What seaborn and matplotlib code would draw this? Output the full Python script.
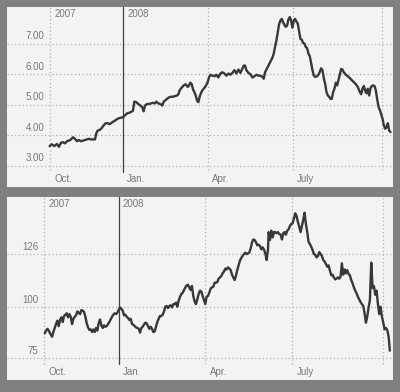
import matplotlib
matplotlib.use("Agg")
import matplotlib.pyplot as plt
import seaborn as sns
import pandas as pd

# ---- data (days relative to 2008-01-01) ----
top_days = [-78.6,-76.1,-73.6,-70.7,-68.6,-66.4,-64.3,-62.1,-60.0,-57.9,-55.7,-53.6,-51.4,-49.3,-47.1,-45.0,-42.9,-40.7,-38.6,-36.4,-34.3,-32.1,-30.0,-28.6,-27.1,-25.0,-22.9,-20.7,-18.6,-16.4,-14.3,-12.1,-10.0,-7.9,-5.7,-3.6,-1.4,0,2.1,4.3,6.4,8.6,10.7,12.1,14.3,16.4,18.6,20.7,22.1,23.6,25.7,27.9,30.0,32.1,34.3,35.7,37.9,40.0,42.1,43.6,45.0,47.1,49.3,51.4,53.6,55.7,57.9,59.3,60.7,62.9,65.0,67.1,69.3,70.7,72.1,73.6,75.0,76.4,77.9,79.3,80.7,82.1,83.6,85.0,86.4,88.6,90.7,92.1,93.6,95.7,97.9,100.0,102.1,104.3,106.4,108.6,110.7,112.9,115.0,117.1,119.3,121.4,123.6,125.7,127.9,129.3,130.7,132.1,134.3,136.4,138.6,140.7,142.9,145.0,147.1,149.3,150.7,152.1,153.6,155.7,157.9,160.0,161.4,162.9,164.3,165.7,167.1,168.6,170.0,171.4,172.9,174.3,175.7,177.1,178.6,180.0,181.4,182.9,184.3,185.7,187.1,188.6,190.0,191.4,192.9,194.3,195.7,197.1,198.6,200.0,201.4,202.9,204.3,205.7,207.9,210.0,212.1,213.6,215.0,216.4,217.9,219.3,220.7,222.1,223.6,225.0,226.4,227.9,229.3,230.7,232.1,233.6,235.0,236.4,238.6,240.7,242.9,245.0,247.1,249.3,251.4,253.6,255.0,256.4,257.9,259.3,260.7,262.1,263.6,265.0,266.4,267.9,269.3,270.7,272.1,273.6,275.7,277.9,279.3,280.7,282.1,283.6,285.0,286.4]
top_vals = [3.65,3.71,3.65,3.72,3.63,3.76,3.78,3.74,3.81,3.83,3.87,3.94,3.89,3.81,3.85,3.81,3.83,3.85,3.87,3.89,3.87,3.87,3.87,4.07,4.16,4.18,4.24,4.33,4.40,4.40,4.37,4.42,4.46,4.50,4.55,4.57,4.59,4.59,4.66,4.72,4.74,4.77,4.81,5.11,5.09,5.03,4.98,4.92,4.79,4.98,5.03,5.03,5.05,5.07,5.05,5.11,5.05,5.03,4.98,5.11,5.14,5.20,5.25,5.27,5.27,5.29,5.31,5.35,5.48,5.57,5.64,5.68,5.59,5.64,5.73,5.68,5.51,5.42,5.31,5.14,5.09,5.27,5.40,5.48,5.53,5.62,5.75,5.90,5.99,5.96,5.94,5.99,5.90,6.03,6.07,6.03,5.96,6.03,5.99,6.05,6.14,6.03,6.16,6.05,6.20,6.29,6.29,6.14,6.05,6.01,5.90,5.94,5.99,5.96,5.96,5.92,5.86,6.07,6.16,6.29,6.42,6.55,6.68,6.92,7.12,7.38,7.64,7.77,7.82,7.71,7.62,7.56,7.60,7.80,7.88,7.77,7.53,7.77,7.82,7.73,7.67,7.40,7.16,7.14,7.03,7.01,6.90,6.86,6.68,6.60,6.38,6.14,5.96,5.92,5.94,6.03,6.20,6.14,5.88,5.70,5.42,5.31,5.27,5.20,5.20,5.42,5.53,5.73,5.64,5.81,5.99,6.18,6.16,6.07,5.99,5.94,5.88,5.81,5.75,5.68,5.59,5.42,5.35,5.53,5.62,5.46,5.38,5.53,5.31,5.55,5.62,5.64,5.62,5.48,5.20,4.94,4.77,4.55,4.33,4.22,4.26,4.40,4.16,4.11]

bot_days = [-77.5,-76.1,-74.7,-73.3,-72.0,-69.9,-68.5,-67.1,-65.7,-64.3,-62.9,-61.5,-60.1,-58.7,-57.3,-55.9,-54.5,-53.1,-51.7,-50.3,-48.9,-47.5,-46.1,-44.7,-43.3,-41.9,-40.5,-39.1,-37.7,-36.3,-34.9,-33.5,-32.1,-30.7,-29.3,-27.9,-26.5,-25.1,-23.8,-22.4,-21.0,-19.6,-18.2,-16.8,-15.4,-14.0,-12.6,-11.2,-9.8,-8.4,-7.0,-5.6,-4.2,-2.8,-1.4,0.0,1.4,2.8,4.2,5.6,7.0,8.4,9.8,11.2,12.6,14.0,15.4,16.8,18.2,19.6,21.0,22.4,23.8,25.1,26.5,27.9,29.3,30.7,32.1,33.5,34.9,36.3,37.7,39.1,40.5,41.9,43.3,44.7,46.1,47.5,48.9,50.3,51.7,53.1,54.5,55.9,57.3,58.7,60.1,61.5,62.9,64.3,65.7,67.1,68.5,69.9,71.3,72.6,74.0,75.4,76.8,78.2,79.6,81.0,82.4,83.8,85.2,86.6,88.0,89.4,90.8,92.2,93.6,95.0,96.4,97.8,99.2,100.6,102.0,103.4,104.8,106.2,107.6,109.0,110.4,111.8,113.2,114.6,116.0,117.4,118.8,120.2,121.6,122.9,124.3,125.7,127.1,128.5,129.9,131.3,132.7,134.1,135.5,136.9,138.3,139.7,141.1,142.5,143.9,145.3,146.7,148.1,149.5,150.9,152.3,153.7,155.1,156.5,157.2,158.6,160.0,161.4,162.8,164.2,165.6,167.0,168.4,169.8,171.2,172.5,173.9,175.3,176.7,178.1,179.5,180.9,182.3,183.7,185.1,186.5,187.9,189.3,190.7,192.1,193.5,194.9,196.3,197.7,199.1,200.5,201.9,203.3,204.7,206.1,207.5,208.9,210.3,211.7,213.1,214.5,215.9,217.3,218.7,220.1,221.5,222.9,224.3,225.6,227.0,228.4,229.8,231.2,232.6,234.0,235.4,236.8,238.2,239.6,241.0,242.4,243.8,245.2,246.6,248.0,249.4,250.8,252.2,253.6,255.0,256.4,257.8,259.2,260.6,262.0,263.4,264.8,266.2,267.6,269.0,270.4,271.8,273.2,274.6,276.0,277.4,278.8,280.2,281.6,283.0,284.3]
bot_vals = [87.3,88.6,89.5,88.6,87.3,85.6,87.9,89.9,91.8,93.5,90.8,93.8,95.1,92.8,95.8,96.4,97.1,95.1,96.7,95.4,91.8,94.4,95.4,96.1,98.0,97.4,96.7,98.7,98.4,97.7,95.4,92.2,90.2,88.9,89.2,87.9,89.2,87.9,89.9,88.6,92.2,94.1,91.2,89.9,91.2,90.5,90.8,91.8,92.8,94.1,95.4,96.4,97.1,96.7,97.4,98.7,100.0,99.3,98.4,96.1,96.4,95.4,94.8,93.8,94.4,91.8,91.5,90.8,90.2,89.9,89.5,87.6,89.9,90.5,91.5,92.5,92.2,90.8,89.5,90.5,89.5,87.9,88.2,90.5,92.8,94.4,95.8,95.8,96.4,98.0,100.3,100.7,99.7,100.7,101.0,100.0,101.6,101.6,102.3,100.3,103.3,105.2,106.5,107.2,108.5,109.8,110.8,111.1,109.8,108.5,110.5,105.6,102.9,101.6,103.9,106.5,108.2,107.8,105.6,103.6,101.6,105.2,105.6,107.2,109.2,109.8,110.1,112.1,112.1,112.4,114.1,114.7,115.4,116.7,117.6,119.0,118.6,119.6,119.0,118.3,116.0,114.7,113.4,115.4,118.3,120.6,122.9,124.2,125.2,126.1,126.8,126.1,126.5,126.8,128.8,131.7,133.3,133.0,132.0,130.4,130.7,130.1,128.4,129.4,128.4,126.5,123.2,128.1,136.9,133.0,137.6,134.3,136.9,136.9,136.3,136.9,136.0,135.6,133.3,136.3,136.9,135.6,137.6,138.2,139.9,140.8,141.2,143.5,146.1,144.8,141.8,139.5,136.9,139.9,142.8,146.4,140.8,136.9,132.0,131.0,129.7,128.1,126.1,125.8,124.5,125.2,127.1,126.1,125.2,123.2,122.5,121.2,119.9,120.6,118.0,115.7,116.0,114.7,113.7,114.1,114.7,114.1,115.0,121.6,116.0,118.6,116.7,118.3,116.3,115.7,113.4,111.8,109.8,108.2,106.9,105.2,103.9,102.6,101.6,100.7,97.1,92.5,95.4,100.0,103.6,121.9,109.5,110.5,106.2,108.2,101.6,96.7,100.3,95.4,92.5,89.2,89.9,88.9,85.6,78.8]

top_yticks = [3.0, 4.0, 5.0, 6.0, 7.0]
top_yticklabels = ["3.00", "4.00", "5.00", "6.00", "7.00"]
bot_yticks = [75, 100, 126]
bot_yticklabels = ["75", "100", "126"]
month_days = [91, 182]            # Apr 1, Jul 1 (days from 2008-01-01)
month_labels = ["Oct.", "Jan.", "Apr.", "July"]
year_labels = ["2007", "2008"]

n = min(len(top_days), len(top_vals))
df_top = pd.DataFrame({"day": top_days[:n], "value": top_vals[:n]})
m = min(len(bot_days), len(bot_vals))
df_bot = pd.DataFrame({"day": bot_days[:m], "value": bot_vals[:m]})

sns.set_style("white")
plt.rcParams["font.family"] = ["Liberation Sans", "DejaVu Sans"]

W, H = 400, 392
fig = plt.figure(figsize=(W / 100, H / 100), dpi=100, facecolor="#808080")

PANEL = "#f3f3f3"
LINE = "#383838"
GRID = "#b0b0b0"
TXT = "#787878"
FS = 7


def panel(rect, df, xlim, ylim, left_day, right_day, yticks, yticklabels,
          vbottom, vline_bottom):
    l, t, r, b = rect
    ax = fig.add_axes([l / W, 1 - b / H, (r - l) / W, (b - t) / H])
    ax.set_facecolor(PANEL)
    for s in ax.spines.values():
        s.set_visible(False)
    ax.set_xlim(*xlim)
    ax.set_ylim(*ylim)
    ax.set_xticks([])
    ax.set_yticks([])
    # horizontal dotted grid
    for yv, lab in zip(yticks, yticklabels):
        ax.plot(xlim, [yv, yv], color=GRID, lw=0.9, ls=(0, (1, 2)), zorder=1)
        ax.annotate(lab, xy=(left_day, yv), xytext=(-4, 2),
                    textcoords="offset points", ha="right", va="bottom",
                    fontsize=FS, color=TXT)
    # vertical dotted lines
    for d in [left_day] + month_days + [right_day]:
        ax.plot([d, d], [vbottom, ylim[1]], color=GRID, lw=0.9,
                ls=(0, (1, 2)), zorder=1)
    # year divider
    ax.plot([0, 0], [vline_bottom, ylim[1]], color="#404040", lw=0.9, zorder=2)
    sns.lineplot(data=df, x="day", y="value", ax=ax, estimator=None,
                 sort=False, color=LINE, lw=1.7, zorder=3)
    ax.set_xlabel("")
    ax.set_ylabel("")
    # year labels
    ax.annotate(year_labels[0], xy=(left_day, ylim[1]), xytext=(3, -1.5),
                textcoords="offset points", ha="left", va="top",
                fontsize=FS, color=TXT)
    ax.annotate(year_labels[1], xy=(0, ylim[1]), xytext=(3, -1.5),
                textcoords="offset points", ha="left", va="top",
                fontsize=FS, color=TXT)
    # month labels
    for d, lab in zip([left_day, 0] + month_days, month_labels):
        ax.annotate(lab, xy=(d, ylim[0]), xytext=(3, 2.5),
                    textcoords="offset points", ha="left", va="bottom",
                    fontsize=FS, color=TXT)
    return ax


panel((7, 7, 393, 187), df_top, (-124.2, 289.1), (2.31, 8.21), -78.2, 277.3,
      top_yticks, top_yticklabels, 2.87, 2.80)
panel((7, 197, 393, 380), df_bot, (-117.1, 287.6), (64.4, 154.1), -78.3, 276.8,
      bot_yticks, bot_yticklabels, 72.2, 72.2)

fig.savefig("out.png", dpi=100, facecolor=fig.get_facecolor())
